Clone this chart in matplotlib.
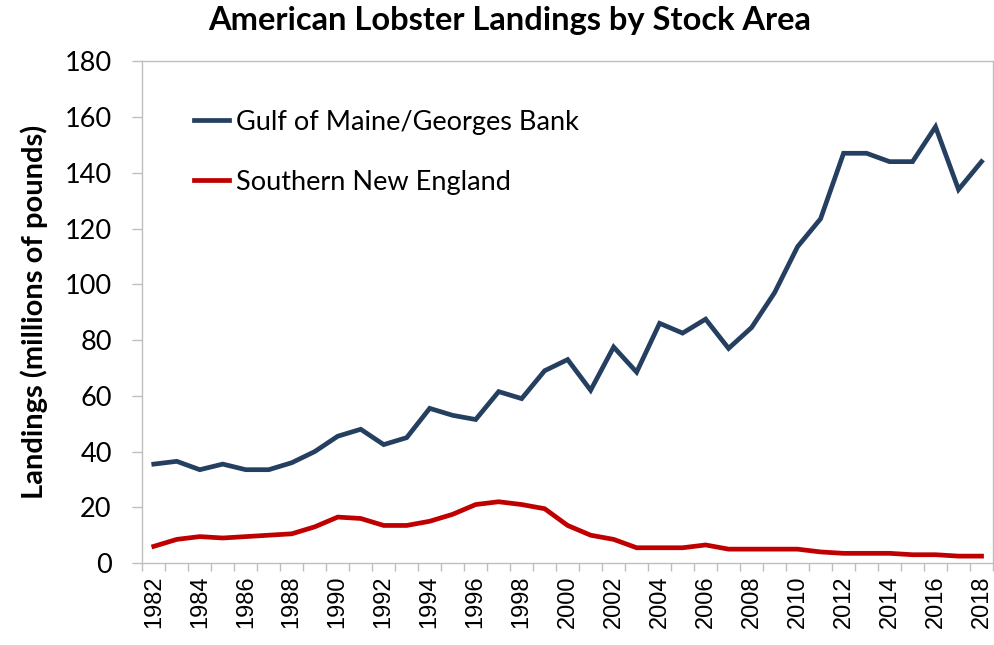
import matplotlib
matplotlib.use("Agg")
import matplotlib.pyplot as plt

# ── Дані ─────────────────────────────────────────────────────────────────────
years = list(range(1982, 2019))

gulf_of_maine = [35.5, 36.5, 33.5, 35.5, 33.5, 33.5, 36.0, 40.0, 45.5, 48.0,
                 42.5, 45.0, 55.5, 53.0, 51.5, 61.5, 59.0, 69.0, 73.0, 62.0,
                 77.5, 68.5, 86.0, 82.5, 87.5, 77.0, 84.5, 97.0, 113.5, 123.5,
                 147.0, 147.0, 144.0, 144.0, 156.5, 134.0, 144.0]

southern_ne = [6.0, 8.5, 9.5, 9.0, 9.5, 10.0, 10.5, 13.0, 16.5, 16.0,
               13.5, 13.5, 15.0, 17.5, 21.0, 22.0, 21.0, 19.5, 13.5, 10.0,
               8.5, 5.5, 5.5, 5.5, 6.5, 5.0, 5.0, 5.0, 5.0, 4.0,
               3.5, 3.5, 3.5, 3.0, 3.0, 2.5, 2.5]

series_names = ["Gulf of Maine/Georges Bank", "Southern New England"]
y_ticks = list(range(0, 181, 20))

# ── Стиль ────────────────────────────────────────────────────────────────────
BLUE = "#243F60"
RED = "#C00000"
GRAY = "#BFBFBF"
MAIN_FONT = ["Lato", "DejaVu Sans"]

fig = plt.figure(figsize=(9.95, 6.45), dpi=100)
ax = fig.add_axes([0.143, 0.127, 0.855, 0.778])

idx = list(range(len(years)))
ax.plot(idx, gulf_of_maine, color=BLUE, linewidth=3.4, label=series_names[0],
        solid_joinstyle="miter")
ax.plot(idx, southern_ne, color=RED, linewidth=3.4, label=series_names[1],
        solid_joinstyle="miter")

ax.set_xlim(-0.5, len(years) - 0.5)
ax.set_ylim(0, 180)
ax.set_yticks(y_ticks)
ax.set_yticklabels([str(v) for v in y_ticks], family=MAIN_FONT, fontsize=19.5)

# підписи років через один, поділки між точками
ax.set_xticks(idx[::2])
ax.set_xticklabels([str(y) for y in years[::2]], rotation=90,
                   family=["Liberation Sans"], fontsize=17)
ax.set_xticks([i - 0.5 for i in range(len(years) + 1)], minor=True)
ax.tick_params(axis="x", which="major", length=0, pad=9)
ax.tick_params(axis="x", which="minor", length=6, color=GRAY, width=1)
ax.tick_params(axis="y", length=7, color=GRAY, width=1, pad=15)

for side in ["left", "bottom", "top", "right"]:
    ax.spines[side].set_color(GRAY)
    ax.spines[side].set_linewidth(1)

ax.set_ylabel("Landings (millions of pounds)", family=MAIN_FONT,
              fontsize=21, fontweight="bold", labelpad=12)
fig.suptitle("American Lobster Landings by Stock Area", family=MAIN_FONT,
             fontsize=23.5, fontweight="bold", x=0.512, y=0.99)

leg = ax.legend(loc="upper left", bbox_to_anchor=(0.048, 0.925), frameon=False,
                prop={"family": MAIN_FONT, "size": 19.5}, handlelength=1.3,
                handletextpad=0.25, labelspacing=1.3, borderaxespad=0)

fig.savefig("out.png", dpi=100)
